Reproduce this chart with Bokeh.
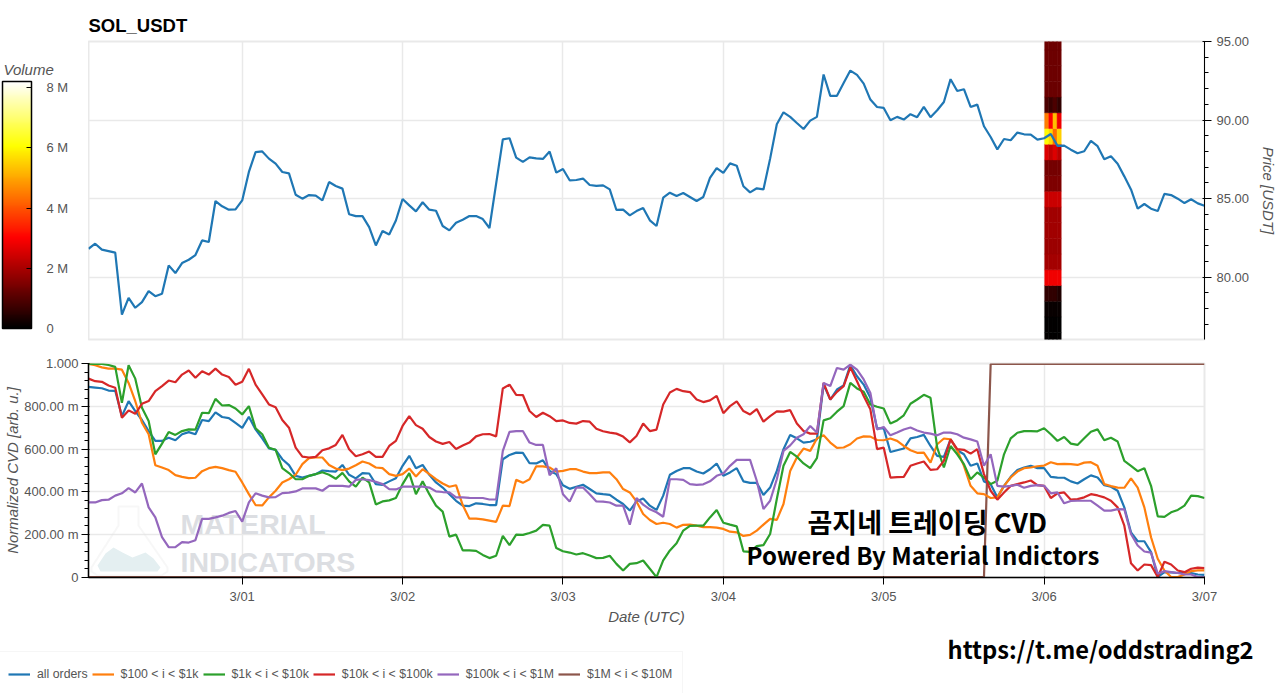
import pandas as pd

from bokeh.embed import file_html
from bokeh.layouts import column, row
from bokeh.models import (ColorBar, ColumnDataSource, Div, FixedTicker, Label, Legend, LegendItem,
                          LinearColorMapper, NumeralTickFormatter, PolyAnnotation, Range1d,
                          SingleIntervalTicker, Spacer)
from bokeh.plotting import figure
from bokeh.resources import INLINE

start = "2026-02-28 01:00"
day_ticks = ["2026-03-01", "2026-03-02", "2026-03-03", "2026-03-04", "2026-03-05", "2026-03-06", "2026-03-07"]
day_labels = ["3/01", "3/02", "3/03", "3/04", "3/05", "3/06", "3/07"]

price = [
    81.8, 82.12, 81.74, 81.65, 81.55, 77.6, 78.67, 78.04, 78.4, 79.1, 78.78, 78.93,
    80.74, 80.25, 80.89, 81.1, 81.4, 82.33, 82.23, 84.84, 84.5, 84.29, 84.31, 84.88,
    86.69, 87.96, 88.0, 87.54, 87.22, 86.69, 86.6, 85.24, 84.99, 85.22, 85.18, 84.88,
    86.05, 85.8, 85.63, 84.0, 83.88, 83.88, 83.18, 82.01, 82.93, 82.71, 83.6, 84.97,
    84.56, 84.18, 84.76, 84.29, 84.22, 83.25, 82.97, 83.46, 83.65, 83.88, 83.88, 83.69,
    83.12, 85.95, 88.77, 88.84, 87.6, 87.33, 87.62, 87.56, 87.52, 87.99, 86.65, 86.88,
    86.16, 86.18, 86.27, 85.86, 85.8, 85.84, 85.58, 84.27, 84.29, 83.93, 84.2, 84.4,
    83.61, 83.25, 85.05, 85.37, 85.16, 85.35, 85.1, 84.84, 85.1, 86.31, 86.94, 86.63,
    87.24, 87.09, 85.78, 85.39, 85.65, 85.58, 87.54, 89.73, 90.49, 90.2, 89.81, 89.43,
    89.96, 90.2, 92.9, 91.54, 91.54, 92.36, 93.15, 92.87, 92.32, 91.3, 90.83, 90.77,
    89.98, 90.2, 90.03, 90.37, 90.18, 90.83, 90.18, 90.62, 91.15, 92.6, 91.85, 91.96,
    90.83, 90.98, 89.6, 88.92, 88.13, 88.79, 88.71, 89.2, 89.09, 89.07, 88.75, 88.84,
    89.11, 88.35, 88.37, 88.11, 87.88, 88.01, 88.67, 88.33, 87.5, 87.69, 87.22, 86.41,
    85.58, 84.35, 84.65, 84.35, 84.2, 85.29, 85.22, 84.99, 84.71, 84.95, 84.69, 84.54,
]

# volume profile, one list per time column, bottom row first (millions)
heat_prices = [75.96, 76.96, 77.96, 78.96, 79.96, 80.96, 81.96, 82.96, 83.96, 84.96,
               85.96, 86.96, 87.96, 88.96, 89.96, 90.96, 91.96, 92.96, 93.96, 94.96]
heat_times = ["2026-03-06 00:24", "2026-03-06 01:01", "2026-03-06 01:38", "2026-03-06 02:15"]
heat_col1 = [0.05, 0.05, 0.1, 0.6, 2.85, 1.95, 1.85, 1.9, 1.9, 2.4, 1.5, 1.4, 2.6, 6.0, 4.5, 0.9, 1.25, 1.3, 1.3, 1.3]
heat_col2 = [0.05, 0.05, 0.1, 0.6, 2.85, 1.95, 1.85, 1.9, 1.9, 2.4, 1.5, 1.4, 2.3, 5.6, 3.0, 0.7, 1.25, 1.3, 1.3, 1.3]
heat_col3 = [0.05, 0.05, 0.1, 0.6, 2.85, 1.95, 1.85, 1.9, 1.9, 2.4, 1.5, 1.4, 2.6, 4.3, 5.3, 0.9, 1.25, 1.3, 1.3, 1.3]
heat_col4 = [0.05, 0.05, 0.1, 0.4, 2.85, 1.95, 1.85, 1.9, 1.9, 2.4, 1.5, 1.4, 2.2, 5.5, 2.8, 0.6, 1.25, 1.3, 1.3, 1.3]

cvd_all = [
    .892, .889, .886, .875, .874, .755, .825, .779, .737, .685, .639, .639,
    .654, .642, .67, .68, .67, .737, .732, .773, .751, .746, .723, .70,
    .752, .693, .651, .604, .597, .553, .525, .475, .467, .475, .483, .50,
    .497, .495, .526, .48, .463, .488, .486, .436, .433, .449, .464, .522,
    .569, .511, .526, .48, .444, .42, .389, .358, .335, .333, .346, .343,
    .338, .338, .553, .573, .584, .583, .534, .533, .548, .498, .483, .431,
    .414, .424, .433, .413, .393, .389, .386, .363, .343, .312, .355, .369,
    .335, .315, .382, .48, .498, .511, .511, .495, .486, .506, .533, .475,
    .491, .511, .449, .442, .442, .385, .42, .498, .60, .667, .651, .631,
    .635, .646, .903, .833, .88, .899, .994, .942, .903, .841, .698, .698,
    .587, .595, .603, .651, .657, .667, .615, .569, .564, .646, .595, .576,
    .522, .533, .449, .436, .374, .428, .47, .502, .514, .522, .511, .511,
    .47, .467, .466, .449, .439, .459, .477, .467, .431, .424, .405, .327,
    .21, .168, .168, .117, .0, .023, .022, .019, .023, .019, .012, .01,
]
cvd_100_1k = [
    1.0, .994, .984, .978, .978, .973, .911, .825, .724, .67, .525, .514,
    .502, .478, .47, .464, .466, .497, .511, .517, .511, .502, .494, .444,
    .389, .338, .336, .374, .405, .444, .459, .48, .53, .558, .561, .561,
    .526, .509, .502, .509, .525, .542, .533, .514, .511, .483, .475, .483,
    .509, .472, .506, .483, .459, .439, .424, .431, .338, .274, .274, .271,
    .265, .259, .335, .333, .456, .442, .459, .52, .519, .514, .495, .498,
    .506, .506, .495, .488, .488, .491, .491, .459, .413, .397, .355, .296,
    .268, .249, .255, .249, .232, .245, .246, .241, .234, .234, .232, .226,
    .213, .21, .193, .198, .218, .246, .273, .268, .343, .498, .561, .603,
    .592, .65, .665, .631, .606, .608, .623, .65, .66, .659, .643, .642,
    .65, .639, .615, .595, .583, .584, .537, .623, .65, .646, .595, .522,
    .428, .393, .389, .371, .374, .428, .467, .495, .511, .514, .52, .523,
    .539, .53, .531, .53, .526, .537, .539, .522, .436, .427, .42, .419,
    .463, .42, .327, .187, .086, .031, .0, .0, .012, .028, .031, .031,
]
cvd_1k_10k = [
    1.0, 1.0, 1.0, .995, .986, .818, .994, .931, .794, .732, .576, .626,
    .681, .667, .685, .693, .692, .771, .769, .836, .805, .807, .791, .763,
    .802, .698, .67, .607, .597, .511, .488, .459, .459, .475, .483, .492,
    .48, .461, .489, .449, .424, .467, .444, .341, .355, .36, .371, .436,
    .488, .389, .449, .389, .335, .307, .19, .199, .125, .125, .123, .104,
    .089, .1, .193, .15, .199, .198, .207, .218, .245, .241, .136, .121,
    .115, .106, .112, .101, .089, .09, .1, .062, .031, .062, .065, .078,
    .039, .0, .078, .125, .159, .218, .24, .241, .241, .28, .315, .255,
    .246, .238, .121, .118, .145, .15, .202, .366, .522, .587, .565, .533,
    .511, .558, .735, .745, .776, .802, .911, .885, .869, .81, .799, .791,
    .72, .735, .759, .813, .833, .855, .841, .607, .514, .615, .576, .53,
    .459, .491, .467, .436, .452, .576, .651, .677, .685, .685, .684, .698,
    .67, .639, .657, .626, .62, .651, .682, .693, .642, .654, .636, .545,
    .522, .497, .511, .428, .285, .282, .304, .315, .335, .382, .38, .371,
]
cvd_10k_100k = [
    .931, .919, .916, .899, .888, .748, .782, .766, .813, .826, .872, .896,
    .922, .914, .95, .969, .935, .966, .95, .978, .95, .939, .902, .916,
    .977, .903, .857, .81, .797, .737, .701, .607, .565, .561, .564, .595,
    .604, .62, .667, .6, .567, .576, .589, .564, .564, .615, .639, .709,
    .755, .713, .696, .657, .636, .625, .634, .601, .617, .631, .66, .67,
    .671, .66, .885, .903, .855, .854, .779, .751, .771, .755, .732, .735,
    .723, .72, .732, .729, .696, .684, .678, .673, .659, .632, .662, .72,
    .685, .692, .81, .866, .883, .872, .868, .833, .821, .829, .85, .769,
    .802, .824, .779, .763, .788, .729, .755, .777, .776, .783, .72, .685,
    .673, .673, .911, .833, .869, .896, .984, .919, .849, .787, .6, .607,
    .467, .469, .47, .522, .533, .542, .503, .506, .545, .646, .6, .597,
    .579, .6, .483, .405, .363, .397, .428, .436, .444, .453, .431, .428,
    .371, .393, .397, .363, .366, .374, .389, .383, .374, .358, .327, .241,
    .065, .031, .059, .056, .0, .072, .059, .031, .023, .039, .044, .042,
]
cvd_100k_1m = [
    .35, .35, .361, .363, .382, .393, .417, .397, .439, .327, .28, .187,
    .14, .14, .164, .162, .173, .273, .273, .28, .288, .301, .31, .26,
    .35, .393, .382, .374, .375, .394, .396, .402, .416, .416, .416, .405,
    .428, .428, .428, .424, .456, .459, .455, .447, .436, .413, .411, .424,
    .424, .424, .424, .42, .402, .399, .397, .374, .374, .372, .371, .371,
    .364, .364, .592, .681, .685, .685, .631, .62, .62, .478, .511, .389,
    .354, .42, .42, .389, .355, .354, .35, .335, .335, .246, .371, .34,
    .318, .304, .283, .459, .459, .456, .436, .433, .435, .449, .475, .486,
    .522, .55, .55, .55, .452, .319, .358, .459, .592, .618, .654, .67,
    .709, .678, .911, .896, .981, .973, .997, .973, .927, .864, .693, .704,
    .665, .678, .692, .702, .688, .678, .673, .665, .678, .678, .67, .654,
    .646, .636, .522, .576, .428, .424, .428, .433, .419, .428, .431, .428,
    .393, .397, .346, .357, .358, .358, .358, .335, .312, .312, .319, .318,
    .202, .148, .12, .115, .016, .028, .023, .019, .012, .012, .0, .0,
]
cvd_1m_10m = [0.0] * 135 + [1.0] * 33

series_names = ["all orders", "$100 < i < $1k", "$1k < i < $10k", "$10k < i < $100k",
                "$100k < i < $1M", "$1M < i < $10M"]
series_colors = ["#1f77b4", "#ff7f0e", "#2ca02c", "#d62728", "#9467bd", "#8c564b"]
series_values = [cvd_all, cvd_100_1k, cvd_1k_10k, cvd_10k_100k, cvd_100k_1m, cvd_1m_10m]

volume_ticks = [0, 2, 4, 6, 8]
volume_labels = ["0", "2 M", "4 M", "6 M", "8 M"]
cvd_ticks = [0, 0.2, 0.4, 0.6, 0.8, 1]
cvd_labels = ["0", "200.00 m", "400.00 m", "600.00 m", "800.00 m", "1.000"]
cvd_minor = [0.04, 0.08, 0.12, 0.16, 0.24, 0.28, 0.32, 0.36, 0.44, 0.48, 0.52, 0.56,
             0.64, 0.68, 0.72, 0.76, 0.84, 0.88, 0.92, 0.96]

GRID = "#e9e9e9"
TEXT = "#555555"
FONT = "Liberation Sans"

times = pd.date_range(start, periods=len(price), freq="h")
tick_ms = [int(pd.Timestamp(d).timestamp() * 1000) for d in day_ticks]
x_range = Range1d(times[0], times[-1])


def hot_palette(n=256):
    # black -> red -> yellow -> white
    colors = []
    for i in range(n):
        t = i / (n - 1)
        r = min(t / 0.365, 1)
        g = min(max((t - 0.365) / 0.375, 0), 1)
        b = min(max((t - 0.74) / 0.26, 0), 1)
        colors.append("#%02x%02x%02x" % (int(r * 255), int(g * 255), int(b * 255)))
    return colors


def blank_figure(width, height):
    # a figure that is nothing but frame, for what has to sit outside the charts' frames
    fig = figure(width=width, height=height, frame_width=width, frame_height=height,
                 x_range=Range1d(0, 1), y_range=Range1d(0, 1), x_axis_location=None, y_axis_location=None,
                 min_border=0, outline_line_color=None, toolbar_location=None, output_backend="svg")
    fig.grid.visible = False
    return fig


mapper = LinearColorMapper(palette=hot_palette(), low=0, high=8.2)

side = blank_figure(88, 345)
bar = ColorBar(color_mapper=mapper, ticker=FixedTicker(ticks=volume_ticks),
               major_label_overrides=dict(zip(volume_ticks, volume_labels)),
               location=(2, 58), width=29, height=247,
               major_label_text_font=FONT, major_label_text_font_size="13px",
               major_label_text_color=TEXT, label_standoff=15, major_tick_in=5,
               major_tick_line_color="black", bar_line_color="black", bar_line_width=1.5,
               padding=0, margin=0, background_fill_alpha=0, border_line_alpha=0)
side.add_layout(bar, "center")
side.add_layout(Label(x=3, y=77, x_units="canvas", y_units="canvas", text="Volume", text_font=FONT,
                      text_font_size="15px", text_font_style="italic", text_color=TEXT))

top = figure(width=1190, height=345, x_axis_type="datetime", y_axis_location="right",
             x_range=x_range, y_range=Range1d(76.02, 95),
             frame_width=1116, frame_height=298,
             min_border_left=0, min_border_right=74, min_border_top=41, min_border_bottom=6,
             title="SOL_USDT", toolbar_location=None, output_backend="svg")
top.title.text_font = FONT
top.title.text_font_size = "18.5px"
top.title.text_color = "black"
top.title.standoff = 12
top.outline_line_color = GRID
top.outline_line_width = 2
top.xaxis.visible = False
top.xaxis.ticker = FixedTicker(ticks=tick_ms)
top.grid.grid_line_color = GRID
top.grid.grid_line_width = 1.5

heat = pd.DataFrame({"time": pd.to_datetime(heat_times[0]), "price": heat_prices, "vol": heat_col1})
for t, col in zip(heat_times[1:], [heat_col2, heat_col3, heat_col4]):
    heat = pd.concat([heat, pd.DataFrame({"time": pd.to_datetime(t), "price": heat_prices, "vol": col})])
fill = {"field": "vol", "transform": mapper}
top.rect(x="time", y="price", width=2220000, height=1.0, source=ColumnDataSource(heat),
         fill_color=fill, line_color=fill, line_width=0.5)
top.line(times, price, line_color="#1f77b4", line_width=2.2)

top.yaxis.ticker = SingleIntervalTicker(interval=5, num_minor_ticks=5)
top.yaxis.formatter = NumeralTickFormatter(format="0.00")
top.yaxis.axis_label = "Price [USDT]"
top.yaxis.axis_label_text_font = FONT
top.yaxis.axis_label_text_font_size = "15px"
top.yaxis.axis_label_text_color = TEXT
top.yaxis.axis_label_standoff = 8
top.yaxis.major_label_text_font = FONT
top.yaxis.major_label_text_font_size = "13px"
top.yaxis.major_label_text_color = TEXT
top.yaxis.major_label_standoff = 5
top.yaxis.major_tick_in = 2
top.yaxis.major_tick_out = 7
top.yaxis.minor_tick_in = 0
top.yaxis.minor_tick_out = 4
top.yaxis.axis_line_color = "black"
top.yaxis.major_tick_line_color = "black"
top.yaxis.minor_tick_line_color = "black"

# scraps of the next card, cut off by the right edge of the picture
scrap_style = {"background-color": "#8cc6de"}
scraps = column(Spacer(width=2, height=30),
                Div(text="", width=2, height=35, margin=0, styles=scrap_style),
                Spacer(width=2, height=145),
                Div(text="", width=2, height=33, margin=0, styles=scrap_style),
                spacing=0)

low = figure(width=1280, height=285, x_axis_type="datetime", x_range=x_range, y_range=Range1d(-0.002, 1.002),
             frame_width=1116, frame_height=214,
             min_border_left=88, min_border_right=76, min_border_top=18, min_border_bottom=53,
             toolbar_location=None, output_backend="svg")
low.outline_line_color = GRID
low.outline_line_width = 2
low.grid.grid_line_color = GRID
low.grid.grid_line_width = 1.5

# Material Indicators watermark, under the lines (canvas pixels of this figure)
flask = PolyAnnotation(xs=[118, 118, 91, 91, 97, 161, 167, 167, 138, 138],
                       ys=[161, 180, 222, 226, 230, 230, 226, 222, 180, 161],
                       xs_units="canvas", ys_units="canvas", level="underlay",
                       fill_alpha=0, line_color="#e6e6e6", line_width=2)
hill = PolyAnnotation(xs=[97, 105, 113, 122, 132, 145, 153, 160, 157, 100],
                      ys=[220, 208, 202, 207, 212, 207, 213, 222, 226, 226],
                      xs_units="canvas", ys_units="canvas", level="underlay",
                      fill_color="#e4eff1", fill_alpha=1, line_alpha=0)
low.add_layout(flask)
low.add_layout(hill)
for text, y in [("MATERIAL", 178), ("INDICATORS", 216)]:
    low.add_layout(Label(x=180, y=y, x_units="canvas", y_units="canvas", text=text, level="underlay",
                         text_font=FONT, text_font_style="bold", text_font_size="28.5px",
                         text_color="#dcdee2", text_baseline="alphabetic"))

# brown first so the others lie on top of it
for i in [5, 0, 1, 2, 3, 4]:
    low.line(times, series_values[i], line_color=series_colors[i], line_width=2.2)

low.yaxis.ticker = FixedTicker(ticks=cvd_ticks, minor_ticks=cvd_minor)
low.yaxis.major_label_overrides = dict(zip(cvd_ticks, cvd_labels))
low.yaxis.axis_label = "Normalized CVD [arb. u.]"
low.xaxis.ticker = FixedTicker(ticks=tick_ms)
low.xaxis.major_label_overrides = dict(zip(tick_ms, day_labels))
low.xaxis.axis_label = "Date (UTC)"
for axis in [low.xaxis, low.yaxis]:
    axis.axis_label_text_font = FONT
    axis.axis_label_text_font_size = "15px"
    axis.axis_label_text_color = TEXT
    axis.major_label_text_font = FONT
    axis.major_label_text_font_size = "13px"
    axis.major_label_text_color = TEXT
    axis.axis_line_color = "black"
    axis.axis_line_width = 1.5
    axis.major_tick_line_color = "black"
    axis.minor_tick_line_color = "black"
    axis.major_tick_in = 1
    axis.major_tick_out = 7
    axis.minor_tick_in = 0
    axis.minor_tick_out = 4
low.xaxis.minor_tick_line_color = None
low.xaxis.major_label_standoff = 4
low.xaxis.axis_label_standoff = 1
low.yaxis.major_label_standoff = 3
low.yaxis.axis_label_standoff = 0

for text, x, y, size in [("곰지네 트레이딩 CVD", 807, 176, "27px"),
                         ("Powered By Material Indictors", 746, 209, "24px")]:
    low.add_layout(Label(x=x, y=y, x_units="canvas", y_units="canvas", text=text, text_color="black",
                         text_font="Noto Sans CJK KR", text_font_style="bold", text_font_size=size,
                         text_baseline="alphabetic"))

# footer: legend and link; its lines fall outside its range and only feed the legend
foot = blank_figure(1280, 63)
items = []
for name, color, values in zip(series_names, series_colors, series_values):
    items.append(LegendItem(label=name, renderers=[foot.line(times, values, line_color=color, line_width=2.2)]))
legend = Legend(items=items, orientation="horizontal", location=(-3, -4), label_text_font=FONT,
                label_text_font_size="12.3px", label_text_color=TEXT, glyph_width=22, glyph_height=24,
                label_height=24, label_standoff=7, spacing=4, padding=10, margin=0,
                border_line_color="#eeeeee", background_fill_alpha=0)
foot.add_layout(legend, "center")
foot.add_layout(Label(x=947, y=18, x_units="canvas", y_units="canvas", text="https://t.me/oddstrading2",
                      text_color="black", text_font="Noto Sans CJK KR", text_font_style="bold",
                      text_font_size="23.7px", text_baseline="alphabetic"))

p = column(row(side, top, scraps, spacing=0), low, foot, spacing=0,
           styles={"position": "absolute", "left": "0", "top": "0"})
open("out.html", "w").write(file_html(p, INLINE))
